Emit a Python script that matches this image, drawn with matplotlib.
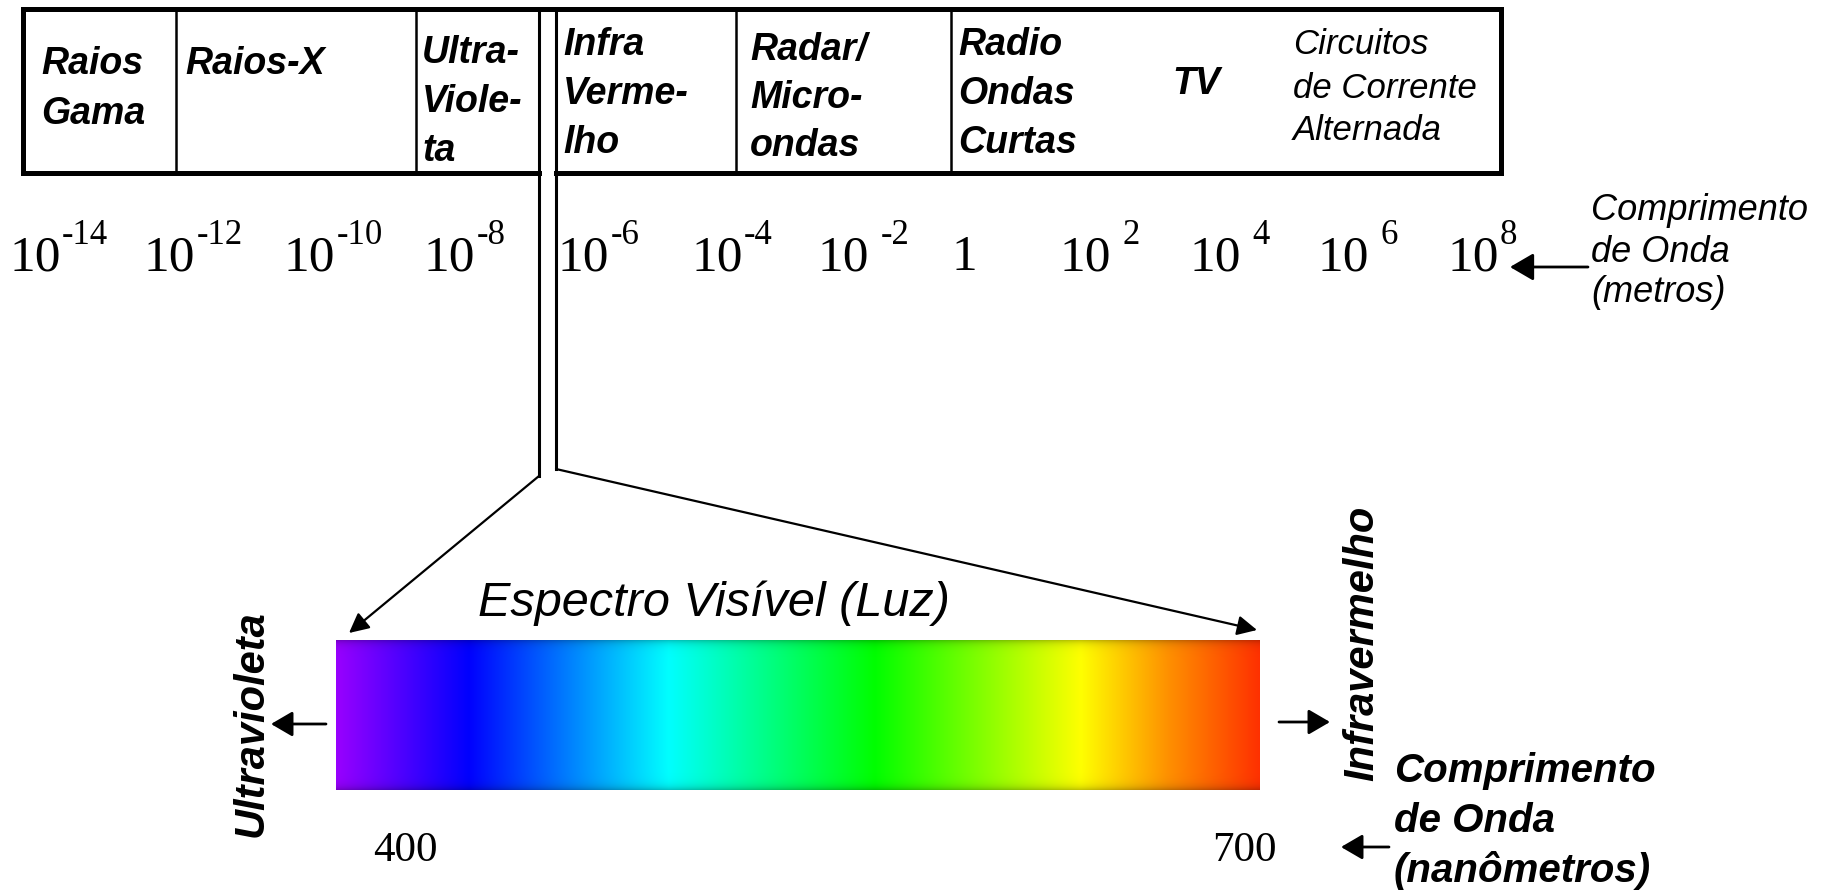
import numpy as np
import matplotlib
matplotlib.use("Agg")
import matplotlib.pyplot as plt

# data
band_names = [["Raios", "Gama"], ["Raios-X"], ["Ultra-", "Viole-", "ta"],
              ["Infra", "Verme-", "lho"], ["Radar/", "Micro-", "ondas"],
              ["Radio", "Ondas", "Curtas"], ["TV"],
              ["Circuitos", "de Corrente", "Alternada"]]
exponents = [-14, -12, -10, -8, -6, -4, -2, 0, 2, 4, 6, 8]
axis_label_m = ["Comprimento", "de Onda", "(metros)"]
axis_label_nm = ["Comprimento", "de Onda", "(nanômetros)"]
visible_nm = [400, 700]
stop_nm = [400, 443, 508, 575, 642, 670, 700]
stop_rgb = [(0.60, 0.00, 1.00), (0.00, 0.00, 1.00), (0.00, 1.00, 1.00),
            (0.00, 1.00, 0.00), (1.00, 1.00, 0.00), (1.00, 0.57, 0.00),
            (1.00, 0.19, 0.00)]

# layout (pixel coords of the 1837x890 picture)
W, H = 1837, 890
box_l, box_r, box_t, box_b = 23, 1501, 9, 173
dividers = [176, 416, 736, 951]
line_a, line_b = 539, 556
bend_a, bend_b = 476, 469
tip_a, tip_b = (349, 633), (1257, 630)
band_x = [41, 185, 422, 563, 750, 958, 1172, 1293]
band_y0 = [64, 64, 53, 45, 50, 45, 84, 45]
band_dy = [50, 0, 49, 49, 48, 49, 0, 43]
band_bold = [True] * 7 + [False]
tick_x = [9, 144, 284, 424, 558, 691, 818, 951, 1060, 1190, 1318, 1447]
tick_gap = [1, 1, 1, 1, 1, 1, 8, 0, 8, 8, 8, 1]
tick_y = 258
spec_l, spec_r, spec_t, spec_b = 336, 1260, 640, 790

sans = "Liberation Sans"
serif = "Liberation Serif"

fig = plt.figure(figsize=(W / 100, H / 100), dpi=100)
ax = fig.add_axes([0, 0, 1, 1])

# spectrum gradient built from the colour stops
wl = np.linspace(visible_nm[0], visible_nm[1], spec_r - spec_l)
row = np.stack([np.interp(wl, stop_nm, [c[k] for c in stop_rgb]) for k in range(3)], axis=-1)
nrows = spec_b - spec_t
d = np.minimum(np.arange(nrows), np.arange(nrows)[::-1])
shade = 1 - 0.22 * np.exp(-d / 4.0)
img = row[None, :, :] * shade[:, None, None]
ax.imshow(img, extent=(spec_l, spec_r, spec_b, spec_t), origin="upper",
          aspect="auto", interpolation="bilinear")

ax.set_xlim(0, W)
ax.set_ylim(H, 0)
ax.axis("off")

# box around the bands
k = dict(color="black", solid_capstyle="projecting")
ax.plot([box_l, box_r], [box_t, box_t], lw=3.6, **k)
ax.plot([box_l, box_l], [box_t, box_b], lw=3.6, **k)
ax.plot([box_r, box_r], [box_t, box_b], lw=3.6, **k)
ax.plot([box_l, line_a], [box_b, box_b], lw=3.6, **k)
ax.plot([line_b, box_r], [box_b, box_b], lw=3.6, **k)
for x in dividers:
    ax.plot([x, x], [box_t, box_b], lw=1.8, color="black")

# the two lines leading to the visible spectrum
ax.plot([line_a, line_a], [box_t, bend_a], lw=2.2, color="black")
ax.plot([line_b, line_b], [box_t, bend_b], lw=2.2, color="black")
arr = dict(arrowstyle="-|>,head_length=0.6,head_width=0.3", color="black",
           lw=1.6, shrinkA=0, shrinkB=0, mutation_scale=20)
ax.annotate("", xy=tip_a, xytext=(line_a, bend_a), arrowprops=arr)
ax.annotate("", xy=tip_b, xytext=(line_b, bend_b), arrowprops=arr)

# band names
for i, lines in enumerate(band_names):
    for j, s in enumerate(lines):
        ax.text(band_x[i], band_y0[i] + j * band_dy[i], s, family=sans,
                style="italic", weight="bold" if band_bold[i] else "normal",
                fontsize=27 if band_bold[i] else 25, ha="left", va="center")

# wavelength labels in metres
for i, e in enumerate(exponents):
    if e == 0:
        ax.text(tick_x[i], tick_y, "1", family=serif, fontsize=37,
                ha="left", va="center")
        continue
    t = ax.text(tick_x[i], tick_y, "10", family=serif, fontsize=37,
                ha="left", va="center")
    ax.annotate(str(e), xy=(1, 0.5), xycoords=t, xytext=(tick_gap[i], 16),
                textcoords="offset points", family=serif, fontsize=25,
                ha="left", va="center")

arr2 = dict(arrowstyle="-|>,head_length=0.6,head_width=0.35", color="black",
            lw=2.0, shrinkA=0, shrinkB=0, mutation_scale=24)
ax.annotate("", xy=(1510, 267), xytext=(1588, 267), arrowprops=arr2)
for j, s in enumerate(axis_label_m):
    ax.text(1591, 211 + j * 41, s, family=sans, style="italic", fontsize=26,
            ha="left", va="center")

# visible spectrum labels
ax.text(714, 603, "Espectro Visível (Luz)", family=sans, style="italic",
        fontsize=35, ha="center", va="center")
ax.text(252, 724, "Ultravioleta", family=sans, style="italic", weight="bold",
        fontsize=30, rotation=90, ha="center", va="center")
ax.text(1362, 643, "Infravermelho", family=sans, style="italic", weight="bold",
        fontsize=30, rotation=90, ha="center", va="center")

arr3 = dict(arrowstyle="-|>,head_length=0.6,head_width=0.35", color="black",
            lw=2.0, shrinkA=0, shrinkB=0, mutation_scale=22)
ax.annotate("", xy=(271, 724), xytext=(326, 724), arrowprops=arr3)
ax.annotate("", xy=(1330, 722), xytext=(1279, 722), arrowprops=arr3)
ax.annotate("", xy=(1341, 847), xytext=(1389, 847), arrowprops=arr3)

ax.text(spec_l + 37, 851, str(visible_nm[0]), family=serif, fontsize=31,
        ha="left", va="center")
ax.text(spec_r - 48, 851, str(visible_nm[1]), family=serif, fontsize=31,
        ha="left", va="center")
for j, s in enumerate(axis_label_nm):
    ax.text(1394, 771 + j * 50, s, family=sans, style="italic", weight="bold",
            fontsize=29, ha="left", va="center")

fig.savefig("out.png", dpi=100, facecolor="white")
